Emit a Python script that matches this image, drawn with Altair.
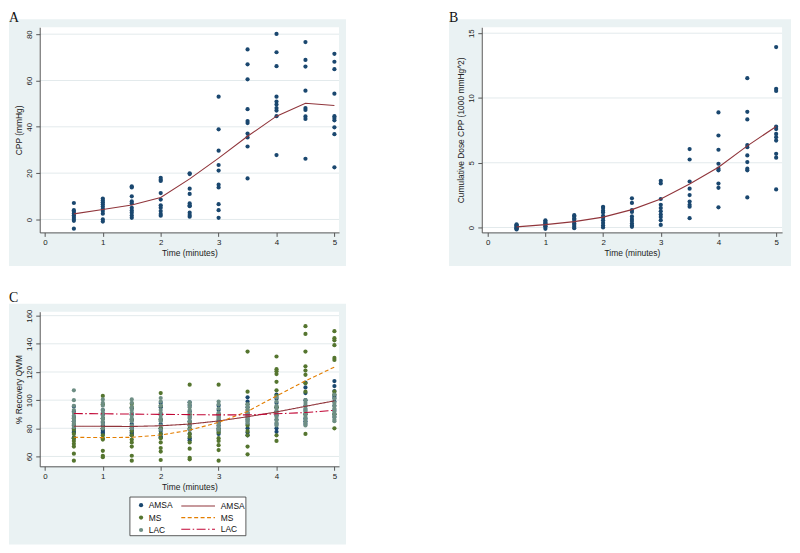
import altair as alt
import pandas as pd

# ---------------- data ----------------
times = [0.5, 1.0, 1.5, 2.0, 2.5, 3.0, 3.5, 4.0, 4.5, 5.0]
x_ticks = [0, 1, 2, 3, 4, 5]

# Panel A : CPP (mmHg)
cpp_points = [
    [7.1, 4.0, 3.3, 2.6, 1.8, 1.0, 0.2, -0.6, -4.0],
    [9.0, 8.2, 7.4, 6.6, 5.6, 4.6, 3.6, 2.5, 0.0, -0.9],
    [14.3, 13.8, 10.0, 7.8, 6.9, 5.0, 3.9, 2.9, 1.7, 0.7],
    [18.0, 17.1, 16.6, 11.4, 8.6, 6.1, 5.1, 3.6, 2.4, 1.6],
    [19.9, 19.6, 13.3, 11.0, 6.9, 6.1, 5.7, 2.9, 1.9, 1.2],
    [53.0, 38.9, 29.7, 23.5, 21.1, 15.0, 13.8, 6.6, 4.0, 0.7],
    [73.4, 67.0, 60.5, 47.6, 42.5, 41.6, 37.1, 35.4, 31.5, 17.7],
    [80.1, 72.2, 66.2, 53.0, 50.9, 49.6, 48.1, 47.0, 44.6, 27.8],
    [76.6, 68.9, 66.0, 55.6, 48.1, 47.3, 44.5, 43.4, 26.2],
    [71.5, 68.1, 64.9, 54.3, 44.6, 43.8, 42.8, 39.8, 36.8, 22.5],
]
cpp_fit = [2.4, 4.3, 6.2, 9.5, 17.5, 26.5, 35.9, 44.6, 50.2, 49.2]
cpp_ticks = [0, 20, 40, 60, 80]

# Panel B : cumulative dose CPP (1000 mmHg^2)
dose_points = [
    [0.25, 0.18, 0.12, 0.05, 0.0, -0.05, -0.1, -0.15],
    [0.55, 0.45, 0.35, 0.3, 0.2, 0.1, 0.05, -0.1],
    [0.95, 0.85, 0.7, 0.6, 0.45, 0.3, 0.2, 0.05, -0.05],
    [1.6, 1.5, 1.3, 1.15, 0.9, 0.75, 0.55, 0.35, 0.15, 0.0],
    [2.25, 1.9, 1.35, 1.2, 0.85, 0.65, 0.5, 0.3, 0.15, 0.05],
    [3.6, 3.4, 2.2, 1.75, 1.5, 1.25, 1.0, 0.8, 0.55, 0.2],
    [6.05, 5.25, 3.55, 3.0, 2.5, 2.0, 1.75, 1.6, 0.72],
    [8.88, 7.1, 6.0, 4.92, 4.54, 4.41, 3.39, 3.06, 1.56],
    [11.53, 8.93, 8.34, 6.37, 6.2, 5.56, 5.05, 4.54, 4.41, 2.32],
    [13.93, 10.71, 10.54, 7.78, 7.6, 7.22, 6.97, 6.71, 5.69, 5.39, 2.94],
]
dose_fit = [0.05, 0.22, 0.45, 0.8, 1.38, 2.2, 3.35, 4.65, 6.3, 7.8]
dose_ticks = [0, 5, 10, 15]

# Panel C : % Recovery QWM
groups = ["AMSA", "MS", "LAC"]
fit_names = ["AMSA fit", "MS fit", "LAC fit"]
amsa_qwm = [
    [95.5, 92, 88, 85, 82, 80, 78, 77, 73.5, 73],
    [93, 90, 87, 84, 82, 80, 79, 78, 77, 76],
    [94, 90, 86, 83, 81, 80, 78.5, 77, 76, 75],
    [98, 95, 90, 86, 83, 80, 78, 76, 74, 73.5],
    [98.5, 96, 92, 88, 85, 82, 79, 76, 73, 71.5],
    [96, 93, 90, 88, 86, 84, 82, 80, 78, 76],
    [102, 99, 95, 91, 88, 86, 83, 80, 77, 75],
    [104, 101, 98, 95, 92, 89, 86, 83, 80, 77.5],
    [112.5, 109, 105, 100, 96, 93, 90, 87, 85, 83],
    [113.5, 110, 106.5, 103, 101.5, 99, 96, 93, 90, 88],
]
ms_qwm = [
    [87, 83, 79, 76, 73, 71, 69, 67, 62, 57],
    [103, 97, 87, 80, 75, 73, 72, 64, 60.5, 59.5],
    [97.5, 95, 86, 78, 75, 72, 70, 67, 60.5, 57],
    [105, 96, 86, 80, 76, 73, 70, 66, 63.5, 57.5],
    [111, 90, 84, 80, 76, 74, 70, 65.5, 59, 58],
    [111, 90, 85, 79, 77, 73, 71, 68, 64.5, 57],
    [134.5, 106, 97, 93, 90, 82, 78, 75, 67, 61.5],
    [131, 122, 120.5, 118.5, 113, 107, 103, 95, 75, 71],
    [152.5, 147, 134.5, 124, 121, 118, 112, 106, 90, 76],
    [149, 144, 142.5, 139, 130, 128.5, 106, 104, 90, 80],
]
lac_qwm = [
    [107, 100, 96, 93, 91, 89, 87, 85, 83, 81],
    [100.5, 98, 96, 93, 91, 89, 87, 85, 83, 80],
    [100.5, 98, 95, 93, 91, 89, 87, 85, 82, 80],
    [101.5, 99, 96, 93, 91, 89, 87, 85, 82, 79],
    [98.5, 97, 95, 93, 91, 89, 87, 85, 82, 79],
    [99, 97, 94, 91, 89, 87, 85, 83, 81, 79],
    [97, 95, 93, 91, 89, 88, 87, 86, 85, 84],
    [102, 99, 96, 94, 92, 90, 88, 86, 84, 82],
    [100, 98, 96, 94, 92, 90, 88, 86, 84, 82],
    [104, 101, 98, 96, 94, 92, 90, 88, 86, 85],
]
amsa_fit = [81.5, 81.4, 81.3, 81.8, 83.0, 85.2, 88.2, 91.6, 95.6, 99.5]
ms_fit = [73.6, 73.4, 73.6, 75.2, 78.7, 84.2, 92.0, 103.0, 113.7, 123.5]
lac_fit = [90.5, 90.3, 90.1, 89.9, 89.7, 89.5, 89.5, 90.3, 91.2, 92.8]
qwm_ticks = [60, 80, 100, 120, 140, 160]

# ---------------- style ----------------
NAVY, GREEN, TEAL = "#1a476f", "#55752f", "#6e8e84"
MAROON, ORANGE, CRAN = "#90353b", "#e37e00", "#c10534"
BG, GRID, AXIS = "#eaf2f3", "#e3eaec", "#555555"
FONT, SERIF = "Liberation Sans", "Liberation Serif"
PT_SIZE = 18


def pts_df(series, group=""):
    rows = []
    for t, vals in zip(times, series):
        for v in vals:
            rows.append({"time": t, "value": v, "group": group})
    return pd.DataFrame(rows)


def fit_df(series, name=""):
    return pd.DataFrame({"time": times, "value": series, "fit": name})


def x_enc(domain):
    return alt.X("time:Q", scale=alt.Scale(domain=domain, nice=False, zero=False),
                 axis=alt.Axis(values=x_ticks, title="Time (minutes)", format="d",
                               tickSize=4, labelPadding=2, titlePadding=2, zindex=1,
                               grid=False, domainColor=AXIS, tickColor=AXIS,
                               labelColor="#222", titleColor="#222", labelFontSize=8,
                               titleFontSize=8.5, titleFontWeight="normal",
                               labelFont=FONT, titleFont=FONT))


def y_enc(domain, ticks, title):
    return alt.Y("value:Q", scale=alt.Scale(domain=domain, nice=False, zero=False),
                 axis=alt.Axis(values=ticks, title=title, format="d", labelAngle=270,
                               tickSize=4, labelPadding=2, titlePadding=2, zindex=1,
                               grid=False, domainColor=AXIS, tickColor=AXIS,
                               labelColor="#222", titleColor="#222", labelFontSize=8,
                               titleFontSize=8.5, titleFontWeight="normal",
                               labelFont=FONT, titleFont=FONT))


one = alt.Data(values=[{}])


def frame_layers(w, h, left, right, bottom, letter, lx, ly):
    bg = alt.Chart(one).mark_rect(color=BG).encode(
        x=alt.value(-left), x2=alt.value(w + right), y=alt.value(-8), y2=alt.value(h + bottom))
    plot = alt.Chart(one).mark_rect(color="white").encode(
        x=alt.value(0), x2=alt.value(w), y=alt.value(0), y2=alt.value(h))
    lab = alt.Chart(one).mark_text(text=letter, font=SERIF, fontSize=14, align="left",
                                   baseline="top", color="#111").encode(
        x=alt.value(lx), y=alt.value(ly))
    return bg, plot, lab


def grid_layer(ticks, ye, w):
    return alt.Chart(pd.DataFrame({"value": ticks})).mark_rule(color=GRID, strokeWidth=1).encode(
        y=ye, x=alt.value(0), x2=alt.value(w))


# ---------------- panel A ----------------
WA, HA = 302, 207
xa = x_enc([-0.09, 5.08])
ya = y_enc([-5.6, 83], cpp_ticks, "CPP (mmHg)")
bgA, plotA, labA = frame_layers(WA, HA, 31, 7, 34, "A", -31, -16)
ptsA = alt.Chart(pts_df(cpp_points)).mark_circle(size=PT_SIZE, opacity=1, color=NAVY).encode(x=xa, y=ya)
lineA = alt.Chart(fit_df(cpp_fit)).mark_line(color=MAROON, strokeWidth=1.1).encode(x=xa, y=ya)
panelA = alt.layer(bgA, plotA, grid_layer(cpp_ticks, ya, WA), ptsA, lineA, labA).properties(
    width=WA, height=HA)

# ---------------- panel B ----------------
WB, HB = 303, 207
xb = x_enc([-0.103, 5.103])
yb = y_enc([-0.38, 15.46], dose_ticks, "Cumulative Dose CPP (1000 mmHg^2)")
bgB, plotB, labB = frame_layers(WB, HB, 33, 9, 34, "B", -33, -16)
ptsB = alt.Chart(pts_df(dose_points)).mark_circle(size=PT_SIZE, opacity=1, color=NAVY).encode(x=xb, y=yb)
lineB = alt.Chart(fit_df(dose_fit)).mark_line(color=MAROON, strokeWidth=1.1).encode(x=xb, y=yb)
panelB = alt.layer(bgB, plotB, grid_layer(dose_ticks, yb, WB), ptsB, lineB, labB).properties(
    width=WB, height=HB)

# ---------------- panel C ----------------
WC, HC = 302, 156
xc = x_enc([-0.09, 5.08])
yc = y_enc([53, 162.8], qwm_ticks, "% Recovery QWM")
bgC, plotC, labC = frame_layers(WC, HC, 31, 7, 79, "C", -31, -21)

c_pts = pd.concat([pts_df(amsa_qwm, groups[0]), pts_df(ms_qwm, groups[1]), pts_df(lac_qwm, groups[2])],
                  ignore_index=True)
c_fit = pd.concat([fit_df(amsa_fit, fit_names[0]), fit_df(ms_fit, fit_names[1]), fit_df(lac_fit, fit_names[2])],
                  ignore_index=True)

LEG_Y = 191
leg1 = alt.Legend(orient="none", legendX=98, legendY=LEG_Y, title=None, symbolType="circle",
                  symbolSize=PT_SIZE, symbolOpacity=1, labelFontSize=8.5, labelFont=FONT,
                  labelColor="#111", labelOffset=3.5, rowPadding=3.5, padding=0)
SEG = 34.0
LEG_SIZE = (SEG / 3) ** 2
leg2 = alt.Legend(orient="none", legendX=142 + SEG / 2 - SEG / 6, legendY=LEG_Y - 1.4, title=None,
                  symbolType="M-3,0H3", symbolSize=LEG_SIZE,
                  symbolStrokeWidth=1.1, labelFontSize=8.5, labelFont=FONT, labelColor="#111",
                  labelOffset=5 + SEG / 2 - SEG / 6, rowPadding=12 - SEG / 3, padding=0,
                  labelExpr="split(datum.label, ' ')[0]")

ptsC = alt.Chart(c_pts).mark_circle(size=PT_SIZE, opacity=1).encode(
    x=xc, y=yc,
    color=alt.Color("group:N", scale=alt.Scale(domain=groups, range=[NAVY, GREEN, TEAL]), legend=leg1),
    order=alt.Order("idx:Q"),
).transform_calculate(idx="datum.group == 'AMSA' ? 0 : (datum.group == 'MS' ? 1 : 2)")
lineC = alt.Chart(c_fit).mark_line(strokeWidth=1.1).encode(
    x=xc, y=yc,
    color=alt.Color("fit:N", scale=alt.Scale(domain=fit_names, range=[MAROON, ORANGE, CRAN]), legend=leg2),
    strokeDash=alt.StrokeDash("fit:N", scale=alt.Scale(domain=fit_names,
                                                       range=[[1, 0], [4, 2.5], [9, 2.5, 1.5, 2.5]]),
                              legend=leg2),
)
boxC = alt.Chart(one).mark_rect(fill="white", stroke="#333333", strokeWidth=0.8).encode(
    x=alt.value(91), x2=alt.value(208), y=alt.value(HC + 31), y2=alt.value(HC + 70))

panelC = alt.layer(bgC, plotC, grid_layer(qwm_ticks, yc, WC), ptsC, lineC, boxC, labC).resolve_scale(
    color="independent", strokeDash="independent").properties(width=WC, height=HC)

top = alt.hconcat(panelA, panelB, spacing=102)
chart = alt.vconcat(top, panelC, spacing=23).resolve_scale(
    color="independent", strokeDash="independent").properties(padding=0).configure_view(
    stroke="transparent", fill="transparent").configure(font=FONT, background="white")

chart.save("out.html", embed_options={"renderer": "svg", "actions": False})
